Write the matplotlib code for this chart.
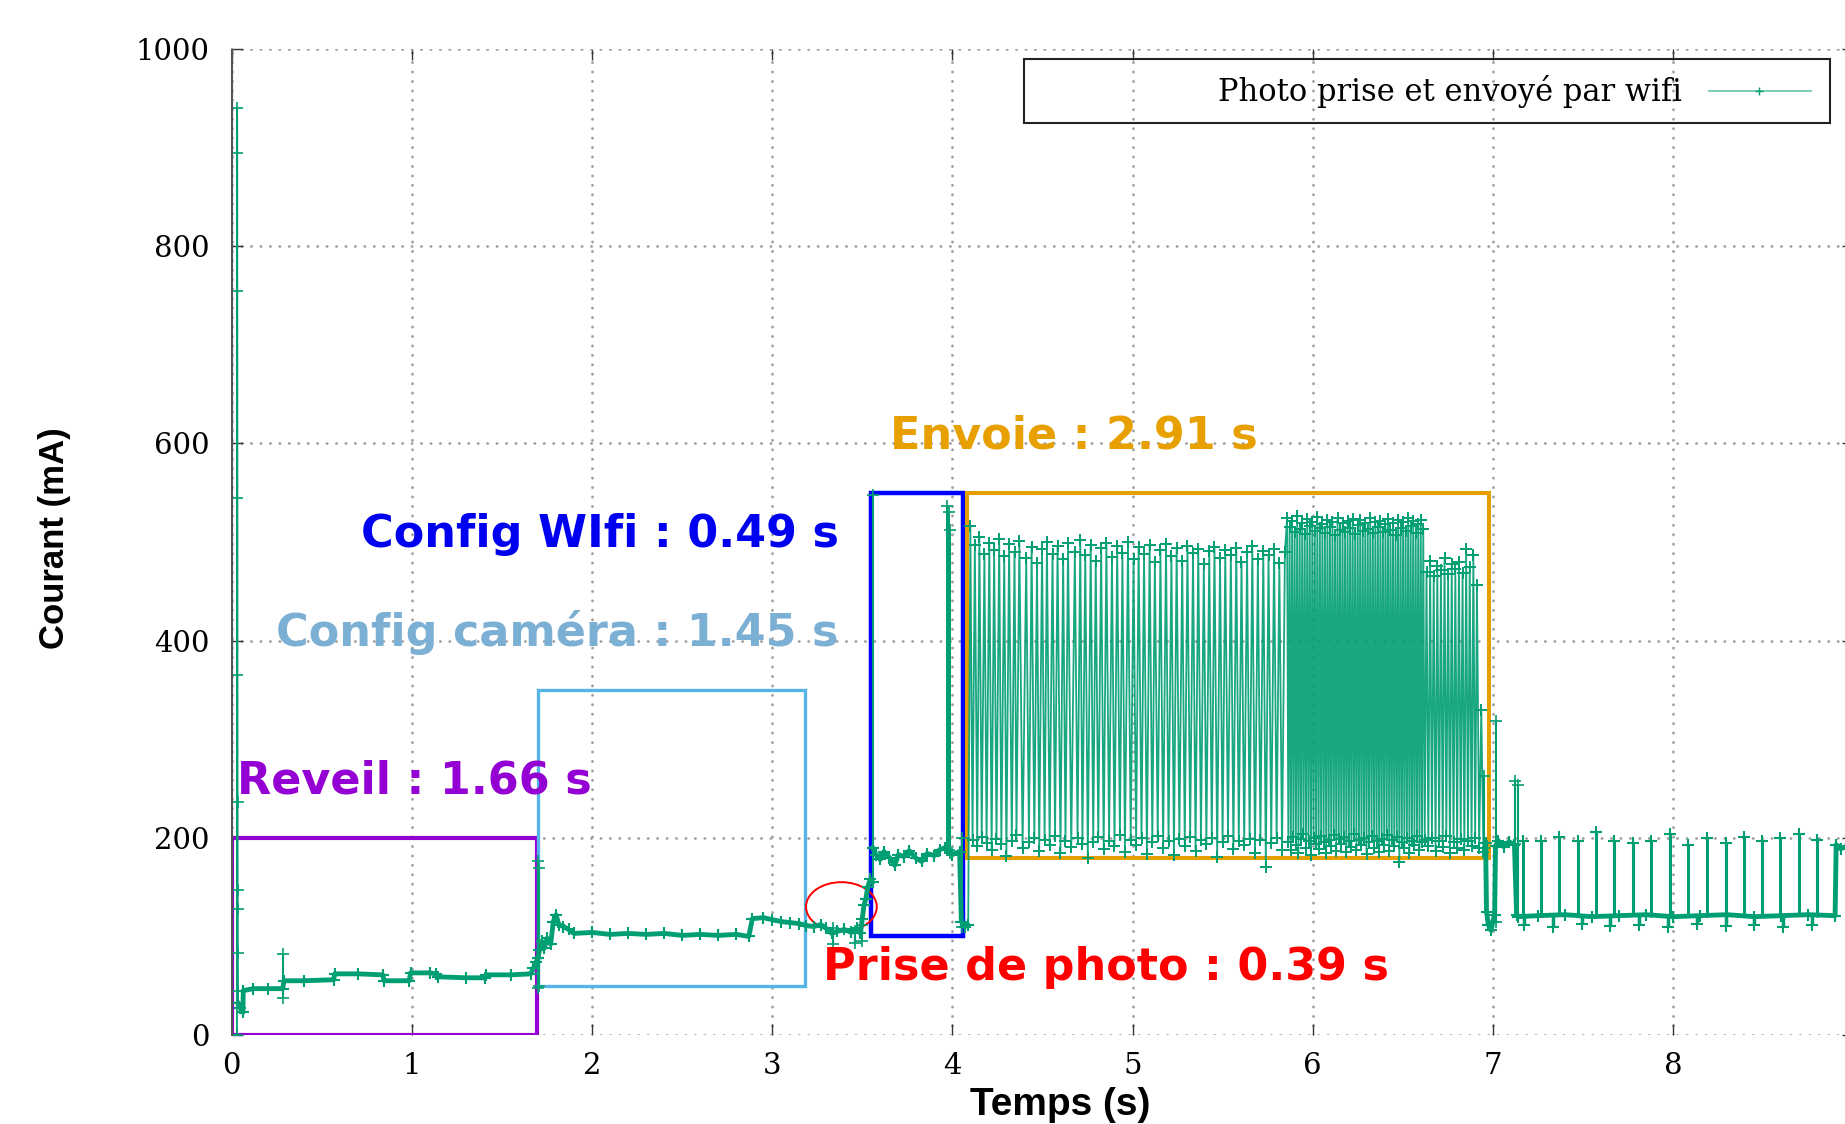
import matplotlib.pyplot as plt
import matplotlib.patches as patches

# Mesures : temps (s) / courant (mA)

# appel de courant au démarrage
boot_t = [0.000, 0.029, 0.030, 0.0305, 0.031, 0.0315, 0.032, 0.0325, 0.033, 0.0335, 0.034, 0.0345, 0.035]
boot_i = [0, 0, 940, 895, 755, 545, 365, 236, 147, 128, 83, 45, 32]

# réveil
wake_t = [0.035, 0.048, 0.062, 0.064, 0.120, 0.200, 0.283, 0.290, 0.400, 0.565, 0.572, 0.700, 0.838, 0.846,
          0.985, 0.993, 1.100, 1.136, 1.144, 1.300, 1.404, 1.412, 1.550, 1.660, 1.675, 1.690, 1.700]
wake_i = [32, 27, 23, 45, 47, 47, 47, 55, 55, 56, 62, 62, 61, 55,
          55, 63, 63, 62, 59, 58, 58, 61, 61, 62, 68, 74, 78]

# config caméra + prise de photo
camera_t = [1.700, 1.708, 1.720, 1.735, 1.750, 1.770, 1.785, 1.800, 1.815, 1.840, 1.870, 1.900, 2.000, 2.100,
            2.200, 2.300, 2.400, 2.500, 2.600, 2.700, 2.800, 2.870, 2.890, 2.950, 3.000, 3.050, 3.100, 3.150,
            3.190, 3.230, 3.270, 3.300, 3.330, 3.360, 3.400, 3.440, 3.470, 3.490, 3.500, 3.510, 3.520, 3.530,
            3.545, 3.557]
camera_i = [78, 86, 95, 88, 98, 92, 115, 122, 112, 110, 107, 103, 104, 102,
            103, 102, 103, 101, 102, 101, 102, 100, 118, 119, 117, 115, 114, 113,
            111, 110, 112, 108, 103, 105, 107, 104, 108, 103, 118, 132, 138, 150,
            158, 155]

# config wifi
wifi_t = [3.557, 3.575, 3.600, 3.620, 3.650, 3.680, 3.700, 3.730, 3.760, 3.800,
          3.830, 3.860, 3.900, 3.930, 3.960, 4.000, 4.040, 4.050, 4.070, 4.085]
wifi_i = [190, 183, 178, 186, 180, 172, 183, 181, 187, 179,
          176, 184, 182, 188, 190, 183, 186, 115, 110, 112]

# envoi : alternance émission / attente
send_t = [4.088,
          4.100, 4.112, 4.125, 4.138, 4.150, 4.163, 4.178, 4.190, 4.205, 4.218,
          4.232, 4.245, 4.260, 4.272, 4.288, 4.300, 4.315, 4.330, 4.345, 4.356,
          4.372, 4.390, 4.410, 4.425, 4.440, 4.455, 4.470, 4.482, 4.498, 4.512,
          4.525, 4.540, 4.556, 4.570, 4.584, 4.600, 4.615, 4.628, 4.642, 4.660,
          4.680, 4.695, 4.710, 4.722, 4.738, 4.752, 4.768, 4.782, 4.796, 4.810,
          4.826, 4.840, 4.855, 4.870, 4.886, 4.900, 4.915, 4.930, 4.944, 4.958,
          4.975, 4.990, 5.006, 5.020, 5.034, 5.050, 5.064, 5.080, 5.095, 5.110,
          5.124, 5.140, 5.155, 5.170, 5.186, 5.200, 5.216, 5.230, 5.245, 5.260,
          5.276, 5.290, 5.305, 5.320, 5.336, 5.350, 5.365, 5.380, 5.396, 5.410,
          5.426, 5.440, 5.455, 5.470, 5.486, 5.500, 5.515, 5.530, 5.546, 5.560,
          5.576, 5.590, 5.605, 5.620, 5.636, 5.650, 5.665, 5.680, 5.696, 5.710,
          5.726, 5.740, 5.755, 5.770, 5.786, 5.800, 5.815, 5.830, 5.846,
          5.858, 5.865, 5.872, 5.879, 5.886, 5.893, 5.900, 5.907, 5.914, 5.921,
          5.928, 5.935, 5.942, 5.949, 5.956, 5.963, 5.970, 5.977, 5.984, 5.991,
          5.998, 6.005, 6.012, 6.019, 6.026, 6.033, 6.040, 6.047, 6.054, 6.061,
          6.068, 6.075, 6.082, 6.089, 6.096, 6.103, 6.110, 6.117, 6.124, 6.131,
          6.138, 6.145, 6.152, 6.159, 6.166, 6.173, 6.180, 6.187, 6.194, 6.201,
          6.208, 6.215, 6.222, 6.229, 6.236, 6.243, 6.250, 6.257, 6.264, 6.271,
          6.278, 6.285, 6.292, 6.299, 6.306, 6.313, 6.320, 6.327, 6.334, 6.341,
          6.348, 6.355, 6.362, 6.369, 6.376, 6.383, 6.390, 6.397, 6.404, 6.411,
          6.418, 6.425, 6.432, 6.439, 6.446, 6.453, 6.460, 6.467, 6.474, 6.481,
          6.488, 6.495, 6.502, 6.509, 6.516, 6.523, 6.530, 6.537, 6.544, 6.551,
          6.558, 6.565, 6.572, 6.579, 6.586, 6.593, 6.600, 6.607, 6.614,
          6.622, 6.632, 6.642, 6.652, 6.662, 6.672, 6.682, 6.692, 6.702, 6.712,
          6.722, 6.732, 6.742, 6.752, 6.762, 6.772, 6.782, 6.792, 6.802, 6.812,
          6.822, 6.832, 6.842, 6.852, 6.862, 6.872, 6.882, 6.892, 6.902, 6.912,
          6.924, 6.936, 6.948, 6.960]
send_i = [112,
          516, 198, 497, 192, 505, 201, 488, 195, 499, 188,
          492, 199, 503, 194, 486, 182, 498, 197, 490, 203,
          501, 190, 484, 196, 495, 200, 479, 187, 493, 198,
          500, 193, 488, 202, 496, 185, 483, 197, 499, 191,
          490, 200, 502, 194, 487, 179, 497, 196, 481, 201,
          494, 189, 499, 197, 485, 192, 496, 203, 489, 186,
          500, 198, 483, 193, 495, 200, 488, 184, 497, 196,
          480, 202, 492, 190, 498, 197, 486, 183, 494, 199,
          481, 192, 496, 201, 489, 187, 493, 198, 478, 194,
          491, 200, 495, 181, 484, 196, 492, 202, 487, 189,
          494, 197, 480, 193, 490, 199, 496, 185, 483, 198,
          491, 170, 487, 195, 493, 200, 479, 188, 490,
          524, 196, 515, 188, 521, 201, 510, 193, 526, 185,
          513, 199, 519, 204, 508, 190, 523, 197, 516, 183,
          520, 200, 511, 194, 525, 189, 514, 202, 518, 196,
          509, 185, 522, 198, 515, 192, 520, 203, 507, 187,
          524, 199, 512, 194, 519, 201, 510, 186, 521, 197,
          514, 191, 523, 204, 508, 188, 517, 198, 522, 193,
          511, 200, 519, 184, 513, 196, 524, 202, 509, 190,
          520, 197, 515, 186, 521, 199, 510, 193, 518, 203,
          523, 187, 512, 198, 519, 192, 507, 201, 522, 175,
          514, 196, 520, 190, 511, 200, 524, 185, 516, 197,
          521, 193, 509, 202, 518, 188, 522, 196, 513,
          198, 470, 192, 481, 200, 466, 187, 476, 197, 472,
          191, 484, 202, 468, 185, 478, 196, 473, 190, 480,
          199, 469, 188, 493, 197, 475, 192, 487, 200, 456,
          190, 330, 186, 195]

# fin : veille avec réveils périodiques
idle_t = [6.960, 6.965, 6.975, 6.990, 7.000, 7.010, 7.015, 7.030, 7.060, 7.090,
          7.120, 7.132, 7.140, 7.250, 7.400, 7.550, 7.700, 7.850, 8.000, 8.150,
          8.300, 8.450, 8.600, 8.750, 8.900, 8.906, 8.930, 8.960, 9.000]
idle_i = [195, 125, 112, 106, 115, 122, 192, 197, 191, 196,
          193, 122, 120, 121, 122, 120, 121, 122, 120, 121,
          122, 120, 121, 122, 121, 193, 189, 191, 190]

idle_spike_t = [7.166, 7.266, 7.368, 7.472, 7.572, 7.675, 7.777, 7.879, 7.984,
                8.083, 8.188, 8.292, 8.392, 8.495, 8.595, 8.697, 8.799]
idle_spike_lo = [121, 120, 122, 121, 120, 122, 121, 120, 122,
                 121, 120, 122, 121, 120, 122, 121, 120]
idle_spike_hi = [197, 197, 201, 197, 206, 197, 195, 197, 204,
                 193, 200, 195, 201, 197, 200, 204, 198]

idle_dip_t = [7.174, 7.333, 7.494, 7.651, 7.814, 7.975, 8.132, 8.295, 8.451, 8.613, 8.770]
idle_dip_lo = [112, 110, 113, 111, 112, 110, 113, 111, 112, 110, 112]

# pics isolés
peak_t = [0.285, 1.698, 1.705, 3.340, 3.460, 3.500, 3.557, 3.972, 3.980, 3.988, 4.052, 6.950, 7.018, 7.125, 7.140]
peak_lo = [37, 48, 50, 92, 93, 95, 155, 190, 188, 185, 110, 190, 115, 194, 121]
peak_hi = [82, 176, 169, 108, 105, 112, 548, 536, 530, 512, 200, 263, 318, 258, 254]

xticks = [0, 1, 2, 3, 4, 5, 6, 7, 8]
yticks = [0, 200, 400, 600, 800, 1000]

vert = '#009e73'
vert_ligne = (0.0, 0.62, 0.45, 0.9)
vert_clair = (0.0, 0.62, 0.45, 0.55)

plt.rcParams['lines.dash_capstyle'] = 'round'

fig = plt.figure(figsize=(18.45, 11.24), dpi=100)
ax = fig.add_axes([0.1256, 0.0792, 0.8788, 0.8772])

# courbe
ax.plot(send_t, send_i, color=vert_ligne, lw=1.3, marker='+', ms=8, mew=1.4, mec=vert)
ax.plot(boot_t, boot_i, color=vert, lw=1.3, marker='+', ms=8, mew=1.2)
ax.vlines(peak_t, peak_lo, peak_hi, color=vert, lw=1.5)
ax.plot(peak_t, peak_hi, '+', color=vert, ms=8, mew=1.2)
ax.plot(peak_t, peak_lo, '+', color=vert, ms=8, mew=1.2)
ax.vlines(idle_spike_t, idle_spike_lo, idle_spike_hi, color=vert, lw=2.2)
ax.plot(idle_spike_t, idle_spike_hi, '+', color=vert, ms=9, mew=1.5)
ax.vlines(idle_dip_t, idle_dip_lo, 121, color=vert, lw=2.5)
ax.plot(idle_dip_t, idle_dip_lo, '+', color=vert, ms=9, mew=1.5)
for t, i in [(wake_t, wake_i), (camera_t, camera_i), (wifi_t, wifi_i), (idle_t, idle_i)]:
    ax.plot(t, i, color=vert, lw=3.5, marker='+', ms=9, mew=1.5)

# phases
ax.add_patch(patches.Rectangle((0.0, 0), 1.695, 200, fill=False, edgecolor='#9400d3', lw=3.0))
ax.add_patch(patches.Rectangle((1.70, 50), 1.48, 300, fill=False, edgecolor='#56b4e9', lw=2.4))
ax.add_patch(patches.Rectangle((3.547, 100), 0.51, 450, fill=False, edgecolor='#0000ff', lw=3.2))
ax.add_patch(patches.Rectangle((4.08, 180), 2.90, 370, fill=False, edgecolor='#e69f00', lw=2.9))
ax.add_patch(patches.Ellipse((3.384, 130), 0.393, 50, fill=False, edgecolor='#ff0000', lw=1.4))

txt = dict(fontsize=32, fontweight='bold', family='DejaVu Sans', va='baseline')
ax.text(0.028, 245, 'Reveil : 1.66 s', color='#9400d3', ha='left', **txt)
ax.text(3.370, 395, 'Config caméra : 1.45 s', color='#7bafd4', ha='right', **txt)
ax.text(3.370, 495, 'Config WIfi : 0.49 s', color='#0000f0', ha='right', **txt)
ax.text(4.677, 595, 'Envoie : 2.91 s', color='#e8a000', ha='center', **txt)
ax.text(4.855, 56, 'Prise de photo : 0.39 s', color='#ff0000', ha='center', **txt)

# légende
ax.add_patch(patches.Rectangle((0.4887, 0.925), 0.4971, 0.065, transform=ax.transAxes,
                               fill=False, edgecolor='#222222', lw=1.5, zorder=5))
ax.text(0.8943, 0.957, 'Photo prise et envoyé par wifi', transform=ax.transAxes,
        fontsize=22, family='DejaVu Serif', ha='right', va='center', zorder=5)
ax.plot([0.9109, 0.9741], [0.957, 0.957], transform=ax.transAxes, color=vert_clair, lw=1.3, zorder=5)
ax.plot([0.9418], [0.957], '+', transform=ax.transAxes, color=vert, ms=6, mew=1.0, zorder=5)

# axes
ax.set_xlim(0, 9)
ax.set_ylim(0, 1000)
ax.set_xticks(xticks)
ax.set_yticks(yticks)
ax.set_axisbelow(True)
ax.grid(True, color='#a0a0a0', ls=(0, (0.1, 3.3)), lw=2.0)
for s in ['top', 'bottom', 'right']:
    ax.spines[s].set_visible(False)
ax.spines['left'].set_linestyle((0, (1, 1)))
ax.spines['left'].set_color('#555555')
ax.spines['left'].set_linewidth(1.5)
ax.tick_params(direction='in', length=8, width=1, color='#333333', top=True, right=True,
               labelsize=21, labelfontfamily='DejaVu Serif')
ax.tick_params(axis='x', pad=12)
ax.tick_params(axis='y', pad=16)

ax.set_xlabel('Temps (s)', fontsize=28, fontweight='bold', family='Liberation Sans', va='center')
ax.xaxis.set_label_coords(0.511, -0.071)
ax.set_ylabel('Courant (mA)', fontsize=25, fontweight='bold', family='Liberation Sans', va='center')
ax.yaxis.set_label_coords(-0.1096, 0.504)

fig.savefig('out.png', dpi=100)
